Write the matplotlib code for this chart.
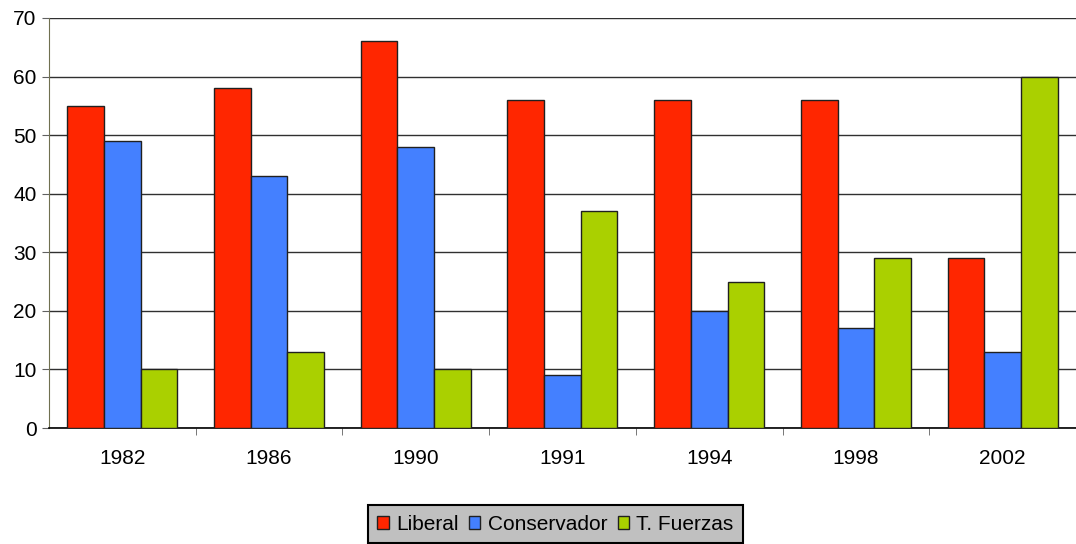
import numpy as np
from matplotlib import pyplot as plt

plt.rcParams['font.family'] = ['Liberation Sans', 'DejaVu Sans']

years = ['1982', '1986', '1990', '1991', '1994', '1998', '2002']
liberal = [55, 58, 66, 56, 56, 56, 29]
conservador = [49, 43, 48, 9, 20, 17, 13]
fuerzas = [10, 13, 10, 37, 25, 29, 60]

series = [('Liberal', liberal, '#FF2600'),
          ('Conservador', conservador, '#4480FF'),
          ('T. Fuerzas', fuerzas, '#AAD000')]

fig = plt.figure(figsize=(10.76, 5.44), dpi=100)
ax = fig.add_axes([0.0455, 0.2132, 0.9545, 0.7538])

x = np.arange(len(years))
w = 0.25
for i, (name, vals, col) in enumerate(series):
    ax.bar(x + (i - 1) * w, vals, width=w, color=col, edgecolor='#202020',
           linewidth=1, label=name, zorder=3)

ax.set_xlim(-0.5, len(years) - 0.5)
ax.set_ylim(0, 70)
ax.set_yticks(range(0, 71, 10))
ax.yaxis.grid(True, color='#303030', linewidth=1, zorder=0)
ax.set_xticks(x)
ax.set_xticklabels(years)
ax.set_xticks(np.arange(0.5, len(years) - 0.5, 1), minor=True)
ax.tick_params(axis='x', which='major', length=0, pad=15, labelsize=15)
ax.tick_params(axis='x', which='minor', length=5, color='#606060')
ax.tick_params(axis='y', length=5, labelsize=15, pad=4, color='#606060')

for s in ['top', 'right']:
    ax.spines[s].set_visible(False)
ax.spines['left'].set_color('#707050')
ax.spines['bottom'].set_color('black')
ax.spines['bottom'].set_linewidth(1.2)

handles, labels = ax.get_legend_handles_labels()
leg = fig.legend(handles, labels, loc='lower center',
                 bbox_to_anchor=(555.5 / 1076, 1.0 / 544),
                 ncol=3, frameon=True, fancybox=False, fontsize=15,
                 handlelength=0.55, handleheight=0.55, handletextpad=0.35,
                 columnspacing=0.5, borderpad=0.45, borderaxespad=0)
leg.get_frame().set_facecolor('#C0C0C0')
leg.get_frame().set_edgecolor('black')
leg.get_frame().set_linewidth(1.5)
leg.get_frame().set_alpha(1)

plt.savefig('out.png', dpi=100)
